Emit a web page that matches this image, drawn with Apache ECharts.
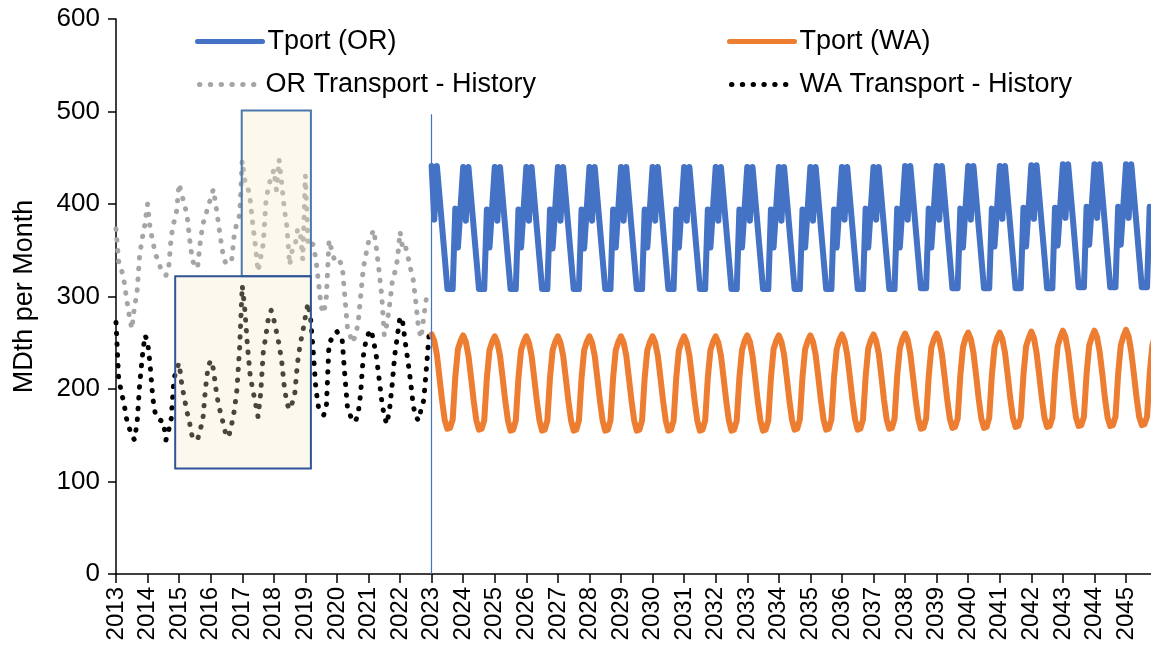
<!DOCTYPE html>
<html>
<head>
<meta charset="utf-8">
<script src="https://cdn.jsdelivr.net/npm/echarts@6/dist/echarts.min.js"></script>
<style>
html,body{margin:0;padding:0;background:#fff;}
#chart{width:1151px;height:656px;}
</style>
</head>
<body>
<div id="chart"></div>
<script>
// ---- Data (monthly, MDth per month) ----
const startYear = 2013;
const seriesNames = ['Tport (OR)', 'Tport (WA)', 'OR Transport - History', 'WA Transport - History'];

// OR Transport - History, Jan 2013 .. Dec 2022 (one row per year)
const orHistory = [
  373, 338, 330, 318, 298, 280, 265, 288, 305, 345, 363, 378,
  400, 373, 360, 345, 340, 330, 325, 323, 330, 365, 380, 392,
  422, 410, 400, 388, 362, 340, 332, 331, 358, 378, 387, 397,
  406, 416, 398, 378, 358, 340, 335, 336, 340, 368, 380, 388,
  447, 425, 420, 405, 378, 355, 327, 342, 357, 402, 420, 428,
  437, 415, 448, 422, 395, 375, 334, 350, 353, 372, 372, 340,
  431, 355, 358, 356, 340, 315, 289, 282, 300, 361, 350, 340,
  342, 338, 334, 300, 266, 258, 250, 258, 270, 300, 330, 345,
  359, 366, 372, 352, 328, 302, 258, 270, 290, 315, 326, 340,
  370, 352, 355, 343, 330, 318, 294, 266, 255, 278, 298, 305
];

// WA Transport - History, Jan 2013 .. Dec 2022
const waHistory = [
  272, 212, 197, 185, 168, 158, 150, 145, 163, 205, 235, 258,
  252, 225, 190, 172, 168, 166, 165, 145, 155, 168, 210, 222,
  228, 205, 190, 175, 163, 148, 146, 145, 156, 166, 200, 224,
  231, 222, 200, 182, 172, 160, 148, 150, 162, 177, 200, 245,
  312, 285, 246, 215, 199, 185, 170, 195, 240, 258, 278, 285,
  275, 262, 248, 230, 202, 184, 178, 185, 196, 228, 248, 262,
  278, 293, 275, 240, 200, 180, 174, 172, 182, 250, 254, 257,
  262, 258, 253, 215, 180, 172, 165, 165, 172, 195, 235, 252,
  260, 264, 251, 235, 212, 188, 170, 162, 178, 205, 237, 258,
  278, 272, 250, 230, 208, 182, 170, 166, 178, 188, 222, 258
];

// Tport (OR) forecast, Jan 2023 .. Dec 2045
const orForecast = [
  441, 383, 441, 408, 375, 342, 308, 308, 308, 395, 353, 397,
  440, 382, 440, 407, 374, 341, 308, 308, 308, 394, 353, 396,
  440, 382, 440, 407, 374, 341, 308, 308, 308, 394, 353, 396,
  440, 382, 440, 407, 374, 341, 308, 308, 308, 394, 352, 396,
  440, 382, 440, 407, 374, 341, 308, 308, 308, 394, 352, 396,
  440, 382, 440, 407, 374, 341, 308, 308, 308, 394, 353, 396,
  440, 382, 440, 407, 374, 341, 308, 308, 308, 394, 353, 396,
  440, 382, 440, 407, 374, 341, 308, 308, 308, 394, 353, 396,
  440, 382, 440, 407, 374, 341, 308, 308, 308, 394, 353, 396,
  440, 382, 440, 407, 374, 341, 308, 308, 308, 394, 353, 396,
  440, 382, 440, 407, 374, 341, 308, 308, 308, 394, 353, 396,
  440, 382, 440, 407, 374, 341, 308, 308, 308, 394, 353, 396,
  440, 382, 440, 407, 374, 341, 308, 308, 308, 394, 353, 396,
  440, 383, 440, 407, 374, 341, 308, 308, 308, 395, 353, 396,
  440, 383, 440, 407, 374, 341, 308, 308, 308, 395, 353, 396,
  441, 383, 441, 408, 375, 342, 309, 309, 309, 395, 353, 397,
  441, 383, 441, 408, 375, 342, 309, 309, 309, 395, 353, 397,
  441, 383, 441, 408, 375, 342, 309, 309, 309, 395, 354, 397,
  441, 384, 441, 408, 375, 342, 309, 309, 309, 396, 354, 397,
  442, 384, 442, 409, 376, 343, 309, 309, 309, 396, 355, 398,
  443, 385, 443, 410, 377, 343, 310, 310, 310, 397, 356, 399,
  443, 385, 443, 410, 377, 343, 310, 310, 310, 397, 356, 399,
  443, 385, 443, 410, 377, 343, 310, 310, 310, 397, 356, 399
];

// Tport (WA) forecast, Jan 2023 .. Dec 2045
const waForecast = [
  259, 252, 237, 212, 187, 166, 157, 158, 167, 213, 243, 252,
  258, 251, 236, 212, 187, 166, 156, 157, 166, 212, 242, 251,
  257, 250, 236, 212, 187, 166, 155, 156, 166, 212, 242, 251,
  257, 250, 236, 212, 187, 166, 155, 156, 166, 212, 242, 251,
  257, 250, 236, 212, 187, 166, 155, 156, 166, 212, 242, 251,
  257, 250, 236, 212, 187, 166, 155, 156, 166, 212, 242, 251,
  257, 250, 236, 212, 187, 166, 155, 156, 166, 212, 242, 251,
  257, 250, 236, 212, 187, 166, 155, 156, 166, 212, 242, 251,
  257, 250, 236, 212, 187, 166, 155, 156, 166, 212, 242, 251,
  257, 250, 236, 212, 187, 166, 155, 156, 166, 212, 242, 252,
  258, 251, 236, 212, 187, 166, 155, 156, 166, 212, 243, 252,
  258, 251, 237, 213, 188, 167, 156, 157, 167, 213, 243, 252,
  258, 251, 237, 213, 188, 167, 156, 157, 167, 213, 243, 253,
  259, 252, 237, 213, 188, 167, 156, 157, 167, 213, 244, 253,
  259, 252, 238, 214, 188, 167, 157, 158, 168, 214, 244, 254,
  260, 253, 238, 214, 189, 168, 157, 158, 168, 214, 245, 254,
  260, 253, 238, 214, 189, 168, 158, 159, 168, 214, 245, 255,
  261, 254, 239, 215, 189, 168, 158, 159, 169, 215, 245, 255,
  261, 254, 239, 215, 190, 169, 159, 160, 169, 215, 246, 255,
  262, 255, 239, 215, 190, 169, 159, 160, 169, 215, 246, 256,
  263, 256, 240, 216, 190, 169, 160, 161, 170, 216, 247, 256,
  263, 256, 240, 216, 190, 169, 160, 161, 170, 216, 247, 257,
  264, 257, 240, 216, 191, 170, 161, 162, 170, 216, 247, 257
];

// Annotation boxes, in months since Jan 2013 and MDth
const boxUpper = { x: [47.8, 74.1], y: [322, 501] };
const boxLower = { x: [22.5, 74.1], y: [114, 322] };
const forecastStart = 120;   // Jan 2023
const dividerTop = 497;

// ---- Build ----
const histPts = arr => arr.map((v, i) => [i, v]);
const fcPts = arr => arr.map((v, i) => [forecastStart + i, v]);

const FONT = 'Liberation Sans, Arial, sans-serif';
const chart = echarts.init(document.getElementById('chart'), null, { renderer: 'canvas' });

const DOT_DASH = [0.4, 10.4];
const dotStyle = (color) => ({ color: color, width: 5, type: DOT_DASH, cap: 'round', join: 'round' });

function legendAt(name, left, top, iw, ls) {
  return {
    data: [name], left: left, top: top, padding: 0,
    itemWidth: iw, itemHeight: 14, itemGap: 0,
    itemStyle: { opacity: 0 },
    lineStyle: ls,
    textStyle: { fontFamily: FONT, fontSize: 27, color: '#000' },
    selectedMode: false
  };
}

const option = {
  animation: false,
  backgroundColor: '#fff',
  legend: [
    legendAt(seriesNames[0], 195, 28, 65, { color: '#4472C4', width: 5, type: 'solid', cap: 'round' }),
    legendAt(seriesNames[1], 727, 28, 65, { color: '#ED7D31', width: 5, type: 'solid', cap: 'round' }),
    legendAt(seriesNames[2], 197, 71, 61, { color: '#A5A5A5', width: 5, type: DOT_DASH, cap: 'round' }),
    legendAt(seriesNames[3], 729, 71, 63, { color: '#000000', width: 5, type: DOT_DASH, cap: 'round' })
  ],
  grid: { left: 116, right: 0, top: 19, bottom: 82, containLabel: false },
  xAxis: {
    type: 'value', min: 0, max: 393.5, interval: 12,
    axisLine: { show: true, lineStyle: { color: '#000', width: 1.5 } },
    axisTick: { show: true, length: 9, lineStyle: { color: '#000', width: 1.5 } },
    splitLine: { show: false },
    axisLabel: {
      rotate: 90, margin: 13, fontFamily: FONT, fontSize: 24, color: '#000',
      showMaxLabel: false,
      formatter: v => (v % 12 === 0 ? String(startYear + v / 12) : '')
    }
  },
  yAxis: {
    type: 'value', min: 0, max: 600, interval: 100,
    name: 'MDth per Month', nameLocation: 'middle', nameGap: 78,
    nameTextStyle: { fontFamily: FONT, fontSize: 27, color: '#000' },
    axisLine: { show: true, lineStyle: { color: '#000', width: 1.5 } },
    axisTick: { show: true, length: 8, lineStyle: { color: '#000', width: 1.5 } },
    splitLine: { show: false },
    axisLabel: { margin: 16, fontFamily: FONT, fontSize: 26, color: '#000' }
  },
  series: [
    {
      name: seriesNames[0], type: 'line', data: fcPts(orForecast),
      showSymbol: false, symbol: 'none', color: '#4472C4',
      lineStyle: { color: '#4472C4', width: 6, join: 'round', cap: 'round' }, z: 3,
      markLine: {
        silent: true, symbol: ['none', 'none'], z: 4,
        label: { show: false },
        lineStyle: { color: '#4472C4', width: 1.2, type: 'solid', opacity: 1 },
        emphasis: { disabled: true },
        data: [[{ coord: [forecastStart, 0] }, { coord: [forecastStart, dividerTop] }]]
      }
    },
    {
      name: seriesNames[1], type: 'line', data: fcPts(waForecast),
      showSymbol: false, symbol: 'none', color: '#ED7D31',
      lineStyle: { color: '#ED7D31', width: 6, join: 'round', cap: 'round' }, z: 3
    },
    {
      name: seriesNames[2], type: 'line', data: histPts(orHistory),
      showSymbol: false, symbol: 'none', color: '#A5A5A5',
      lineStyle: dotStyle('#A5A5A5'), z: 2
    },
    {
      name: seriesNames[3], type: 'line', data: histPts(waHistory),
      showSymbol: false, symbol: 'none', color: '#000000',
      lineStyle: dotStyle('#000000'), z: 2,
      markArea: {
        silent: true, z: 6,
        label: { show: false },
        data: [
          [{ coord: [boxUpper.x[0], boxUpper.y[1]], itemStyle: { color: 'rgba(250,233,200,0.3)', borderColor: '#4A78AC', borderWidth: 2 } },
           { coord: [boxUpper.x[1], boxUpper.y[0]] }],
          [{ coord: [boxLower.x[0], boxLower.y[1]], itemStyle: { color: 'rgba(250,233,200,0.3)', borderColor: '#2F5597', borderWidth: 2 } },
           { coord: [boxLower.x[1], boxLower.y[0]] }]
        ]
      }
    }
  ]
};
chart.setOption(option);
</script>
</body>
</html>
